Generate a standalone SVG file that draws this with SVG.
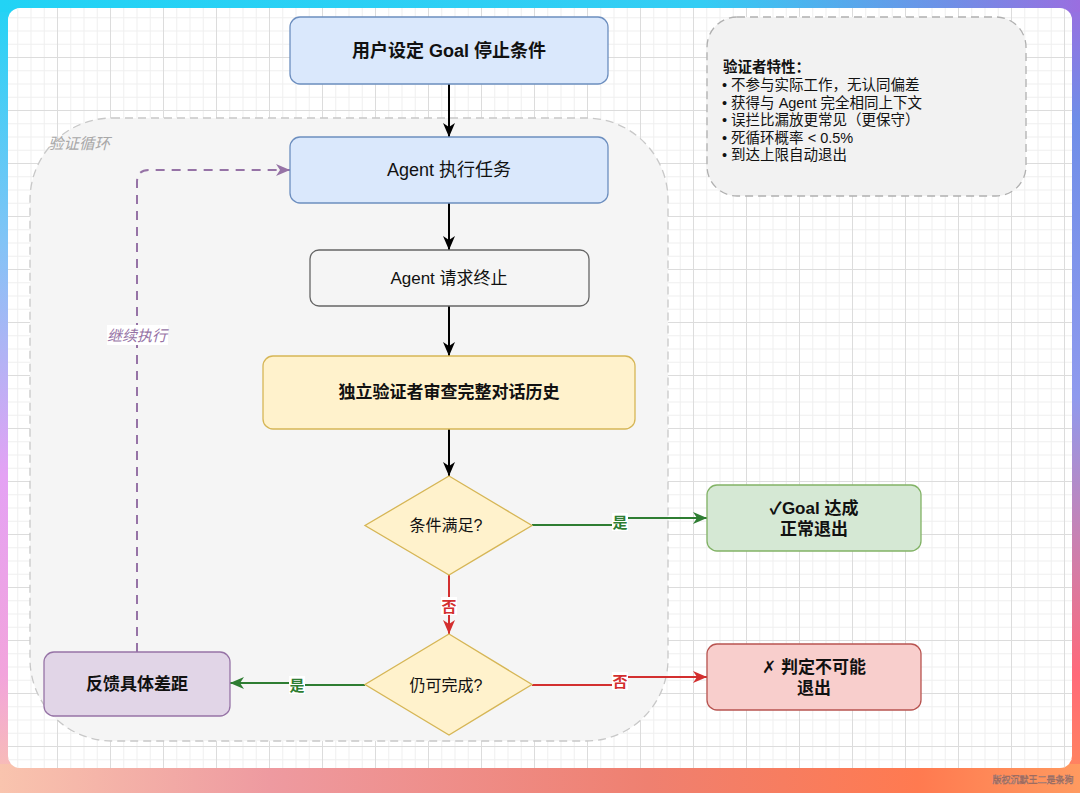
<svg xmlns="http://www.w3.org/2000/svg" width="1080" height="793" viewBox="0 0 1080 793">
<defs>
<linearGradient id="gTop" x1="0" y1="0" x2="1" y2="0"><stop offset="0" stop-color="#22d3f5"/><stop offset="0.65" stop-color="#34cdf4"/><stop offset="0.88" stop-color="#6f8fe6"/><stop offset="1" stop-color="#9a6ee0"/></linearGradient>
<linearGradient id="gRight" x1="0" y1="0" x2="0" y2="1"><stop offset="0" stop-color="#9a6ee0"/><stop offset="0.15" stop-color="#6f8ee8"/><stop offset="0.5" stop-color="#8f9aee"/><stop offset="0.85" stop-color="#ff6a7a"/><stop offset="1" stop-color="#ff8a58"/></linearGradient>
<linearGradient id="gLeft" x1="0" y1="0" x2="0" y2="1"><stop offset="0" stop-color="#22d3f5"/><stop offset="0.3" stop-color="#80c4f6"/><stop offset="0.6" stop-color="#e4a2f4"/><stop offset="0.85" stop-color="#f2a4dc"/><stop offset="1" stop-color="#f9c2ae"/></linearGradient>
<linearGradient id="gBottom" x1="0" y1="0" x2="1" y2="0"><stop offset="0" stop-color="#f9c4ae"/><stop offset="0.25" stop-color="#ee9aa0"/><stop offset="0.6" stop-color="#ef8070"/><stop offset="0.85" stop-color="#ff7a50"/><stop offset="1" stop-color="#ff9a60"/></linearGradient>
<pattern id="grid" patternUnits="userSpaceOnUse" x="4" y="4" width="53" height="53">
<path d="M13.75,0V53M27,0V53M40.25,0V53M0,13.75H53M0,27H53M0,40.25H53" stroke="#efefef" stroke-width="1" fill="none"/>
<path d="M0.5,0V53M0,0.5H53" stroke="#dcdcdc" stroke-width="1" fill="none"/>
</pattern>
<marker id="aBlack" markerUnits="userSpaceOnUse" markerWidth="14" markerHeight="12" refX="14" refY="6" orient="auto"><path d="M0,0L14,6L0,12L4,6z" fill="#000"/></marker>
<marker id="aGreen" markerUnits="userSpaceOnUse" markerWidth="14" markerHeight="12" refX="14" refY="6" orient="auto"><path d="M0,0L14,6L0,12L4,6z" fill="#2e7d32"/></marker>
<marker id="aRed" markerUnits="userSpaceOnUse" markerWidth="14" markerHeight="12" refX="14" refY="6" orient="auto"><path d="M0,0L14,6L0,12L4,6z" fill="#d32f2f"/></marker>
<marker id="aPurple" markerUnits="userSpaceOnUse" markerWidth="14" markerHeight="12" refX="14" refY="6" orient="auto"><path d="M0,0L14,6L0,12L4,6z" fill="#9673a6"/></marker>
</defs>
<style>
text{font-family:"Liberation Sans","Noto Sans CJK SC","DejaVu Sans",sans-serif;fill:#111;}
.c{text-anchor:middle;dominant-baseline:central;}
.b{font-weight:bold;}
.node{stroke-width:1.3;}
.lbl{font-size:15px;font-weight:bold;text-anchor:middle;dominant-baseline:central;}
.edge{fill:none;stroke-width:2;}
</style>
<!-- background frame -->
<rect x="0" y="0" width="1080" height="793" fill="#f2a0c0"/>
<rect x="0" y="0" width="12" height="793" fill="url(#gLeft)"/>
<rect x="1068" y="0" width="12" height="793" fill="url(#gRight)"/>
<rect x="0" y="0" width="1080" height="12" fill="url(#gTop)"/>
<rect x="0" y="764" width="1080" height="29" fill="url(#gBottom)"/>
<rect x="8" y="8" width="1064" height="760" rx="12" fill="#ffffff"/>
<rect x="8" y="8" width="1064" height="760" rx="12" fill="url(#grid)"/>
<text x="1073.5" y="783" font-size="9" text-anchor="end" stroke="#9a6a60" stroke-width="0.6" style="fill:#f6eeee" opacity="0.95">版权沉默王二是条狗</text>

<!-- container -->
<g id="loop">
<rect x="30" y="118" width="638" height="623" rx="82" fill="#f5f5f5" stroke="#c8c8c8" stroke-width="1.3" stroke-dasharray="8,5"/>
<text x="48" y="143" font-size="15.5" font-style="italic" dominant-baseline="central" style="fill:#a8a8a8">验证循环</text>
</g>

<!-- verifier note -->
<g id="note">
<rect x="707" y="17" width="319" height="179" rx="30" fill="#f2f2f2" stroke="#b0b0b0" stroke-width="1.3" stroke-dasharray="8,5"/>
<text font-size="14.5">
<tspan x="723" y="72" font-weight="bold">验证者特性：</tspan>
<tspan x="722" y="90">• 不参与实际工作，无认同偏差</tspan>
<tspan x="722" y="107.5">• 获得与 Agent 完全相同上下文</tspan>
<tspan x="722" y="125">• 误拦比漏放更常见（更保守）</tspan>
<tspan x="722" y="142.5">• 死循环概率 &lt; 0.5%</tspan>
<tspan x="722" y="160">• 到达上限自动退出</tspan>
</text>
</g>

<!-- connectors -->
<g id="connectors">
<path class="edge" d="M449,84V137" stroke="#000" marker-end="url(#aBlack)"/>
<path class="edge" d="M449,203V250" stroke="#000" marker-end="url(#aBlack)"/>
<path class="edge" d="M449,306V356" stroke="#000" marker-end="url(#aBlack)"/>
<path class="edge" d="M449,429V476" stroke="#000" marker-end="url(#aBlack)"/>
<path class="edge" d="M532,525H620V518H707" stroke="#2e7d32" marker-end="url(#aGreen)"/>
<path class="edge" d="M449,575V634" stroke="#d32f2f" marker-end="url(#aRed)"/>
<path class="edge" d="M532,685H620V677H707" stroke="#d32f2f" marker-end="url(#aRed)"/>
<path class="edge" d="M365,685H297V683H230" stroke="#2e7d32" marker-end="url(#aGreen)"/>
<path class="edge" d="M137,652V182Q137,170 149,170H290" stroke="#9673a6" stroke-width="2.5" stroke-dasharray="9,7" marker-end="url(#aPurple)"/>
<rect x="612" y="513" width="16" height="18" fill="#ffffff"/>
<text class="lbl" x="620" y="522" style="fill:#2e7d32">是</text>
<rect x="441" y="597" width="16" height="18" fill="#ffffff"/>
<text class="lbl" x="449" y="606" style="fill:#d32f2f">否</text>
<rect x="612" y="672" width="16" height="18" fill="#ffffff"/>
<text class="lbl" x="620" y="681" style="fill:#d32f2f">否</text>
<rect x="289" y="676" width="16" height="18" fill="#ffffff"/>
<text class="lbl" x="297" y="685" style="fill:#2e7d32">是</text>
<rect x="107" y="325" width="61" height="20" fill="#ffffff"/>
<text class="c" x="137" y="335" font-size="15" font-style="italic" style="fill:#9673a6">继续执行</text>
</g>

<!-- nodes -->
<g id="n-goal">
<rect class="node" x="290" y="17" width="318" height="67" rx="10" fill="#dae8fc" stroke="#6c8ebf"/>
<text class="c b" x="449" y="50.5" font-size="18">用户设定 Goal 停止条件</text>
</g>
<g id="n-exec">
<rect class="node" x="290" y="137" width="318" height="66" rx="10" fill="#dae8fc" stroke="#6c8ebf"/>
<text class="c" x="449" y="170" font-size="18">Agent 执行任务</text>
</g>
<g id="n-req">
<rect class="node" x="310" y="250" width="279" height="56" rx="9" fill="#f5f5f5" stroke="#666666"/>
<text class="c" x="449" y="278" font-size="17">Agent 请求终止</text>
</g>
<g id="n-verify">
<rect class="node" x="263" y="356" width="372" height="73" rx="10" fill="#fff2cc" stroke="#d6b656"/>
<text class="c b" x="449" y="392.5" font-size="17">独立验证者审查完整对话历史</text>
</g>
<g id="n-cond">
<polygon class="node" points="449,476 532,525.5 449,575 365,525.5" fill="#fff2cc" stroke="#d6b656"/>
<text class="c" x="446" y="525.5" font-size="16">条件满足?</text>
</g>
<g id="n-can">
<polygon class="node" points="449,634 532,684.5 449,735 365,684.5" fill="#fff2cc" stroke="#d6b656"/>
<text class="c" x="446" y="685" font-size="16">仍可完成?</text>
</g>
<g id="n-ok">
<rect class="node" x="707" y="485" width="214" height="66" rx="10" fill="#d5e8d4" stroke="#82b366"/>
<text class="c b" x="814" y="508" font-size="17">✓Goal 达成</text>
<text class="c b" x="814" y="529" font-size="17">正常退出</text>
</g>
<g id="n-fail">
<rect class="node" x="707" y="644" width="214" height="66" rx="10" fill="#f8cecc" stroke="#b85450"/>
<text class="c b" x="814" y="667" font-size="17">✗ 判定不可能</text>
<text class="c b" x="814" y="688" font-size="17">退出</text>
</g>
<g id="n-feedback">
<rect class="node" x="44" y="652" width="186" height="64" rx="10" fill="#e1d5e7" stroke="#9673a6"/>
<text class="c b" x="137" y="684" font-size="17">反馈具体差距</text>
</g>
</svg>
